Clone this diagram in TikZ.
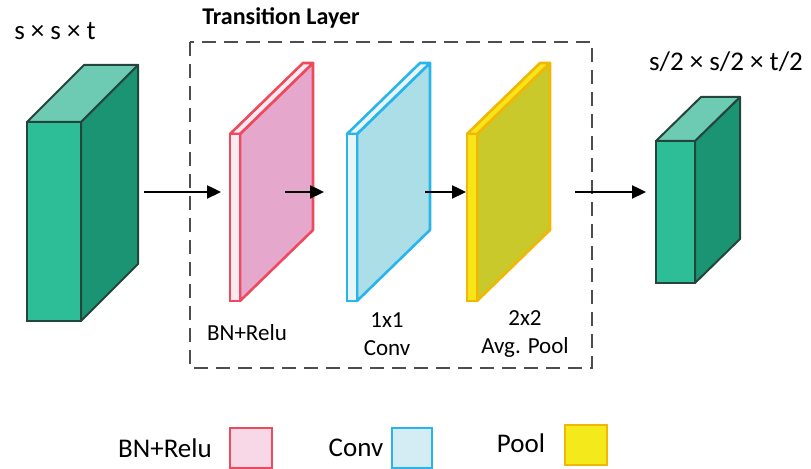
\documentclass[tikz,border=0pt]{standalone}
\usepackage{fontspec}
\setmainfont{Carlito}
\usepackage{tikz}
\usetikzlibrary{arrows.meta}
\definecolor{blkfront}{HTML}{2DBE97}
\definecolor{blktop}{HTML}{6ECBB3}
\definecolor{blkside}{HTML}{1B9473}
\definecolor{blkedge}{HTML}{24453C}
\definecolor{pinkside}{HTML}{E5A8CC}
\definecolor{pinkedge}{HTML}{EE4A5E}
\definecolor{pinkfront}{HTML}{FDEAF1}
\definecolor{bluside}{HTML}{ABDEE6}
\definecolor{bluedge}{HTML}{2AB4EC}
\definecolor{blufront}{HTML}{E8F6FA}
\definecolor{yelside}{HTML}{C9C92B}
\definecolor{yeledge}{HTML}{F2B705}
\definecolor{yelfront}{HTML}{F6E619}
\definecolor{legpink}{HTML}{F8D7E7}
\definecolor{legblue}{HTML}{D4ECF3}
\definecolor{legyel}{HTML}{F3E91B}
\definecolor{boxgray}{HTML}{4D4D4D}
% block: x0, y0, width, height, depth x, depth y
\newcommand{\drawblock}[6]{%
\draw[blkedge,fill=blkside,line join=round](#1+#3,#2)--++(#5,-#6)--++(0,#4)--++(-#5,#6)--cycle;
\draw[blkedge,fill=blktop,line join=round](#1,#2)--++(#5,-#6)--++(#3,0)--++(-#5,#6)--cycle;
\draw[blkedge,fill=blkfront](#1,#2) rectangle ++(#3,#4);}
\begin{document}
\begin{tikzpicture}[x=0.5pt,y=-0.5pt,line width=1pt,
  dimtext/.style={font=\fontsize{13.5}{16}\selectfont},
  platetext/.style={font=\fontsize{11.5}{14}\selectfont,align=center},
  legtext/.style={font=\fontsize{13.5}{16}\selectfont},
  flow/.style={-{Triangle[length=7pt,width=6.5pt]},line width=1.2pt}]
\useasboundingbox (0,0) rectangle (811,469);
% input and output blocks
\drawblock{27}{122}{54}{199}{57}{57}
\drawblock{656}{141}{39}{142}{45}{44}
\node[dimtext] (inlab) at (55,31) {s × s × t};
\node[dimtext] (outlab) at (726,62) {s/2 × s/2 × t/2};
% transition layer
\draw[boxgray,line width=1.2pt,dash pattern=on 7pt off 4pt] (190,42) rectangle (592,368);
\node[font=\fontsize{12}{14}\selectfont\bfseries] (title) at (281,18) {Transition Layer};
\foreach \x/\nm/\side/\edge/\front/\topc in {230/bn/pinkside/pinkedge/pinkfront/pinkfront,347/conv/bluside/bluedge/blufront/blufront,467/pool/yelside/yeledge/yelfront/yelfront}{
  \coordinate (\nm) at (\x,134);
  \draw[\edge,line width=1.3pt,fill=\side,line join=round](\x+10,134)--++(73,-71)--++(0,167)--++(-73,71)--cycle;
  \draw[\edge,line width=1.3pt,fill=\topc,line join=round](\x,134)--++(73,-71)--++(10,0)--++(-73,71)--cycle;
  \draw[\edge,line width=1.3pt,fill=\front](\x,134) rectangle ++(10,167);
}
\node[platetext] (bnlab) at (247,333) {BN+Relu};
\node[platetext] (convlab) at (387,334) {1x1\\Conv};
\node[platetext] (poollab) at (525,334) {2x2\\Avg. Pool};
% arrows
\foreach \s/\e [count=\i] in {144/221,285/324,425/466,575/646}{
  \coordinate (s\i) at (\s,192);
  \coordinate (e\i) at (\e,192);
  \draw[flow] (s\i) -- (e\i);
}
% legend
\node[legtext] (legbn) at (165,448) {BN+Relu};
\draw[pinkedge,line width=1.3pt,fill=legpink] (230,428) rectangle (272,468);
\node[legtext] (legconv) at (356,448) {Conv};
\draw[bluedge,line width=1.3pt,fill=legblue] (392,428) rectangle (432,468);
\node[legtext] (legpool) at (521,443) {Pool};
\draw[yeledge,line width=1.3pt,fill=legyel] (565,425) rectangle (607,465);
\end{tikzpicture}
\end{document}
